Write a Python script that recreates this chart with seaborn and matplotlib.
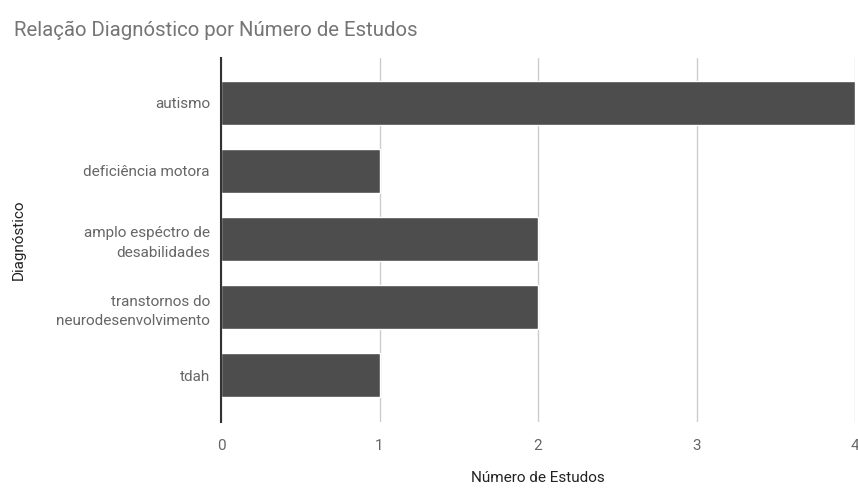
import matplotlib
matplotlib.use("Agg")
import matplotlib.pyplot as plt
import seaborn as sns
import pandas as pd

diagnosticos = [
    "autismo",
    "deficiência motora",
    "amplo espéctro de\ndesabilidades",
    "transtornos do\nneurodesenvolvimento",
    "tdah",
]
num_estudos = [4, 1, 2, 2, 1]
x_ticks = [0, 1, 2, 3, 4]

df = pd.DataFrame({"Diagnóstico": diagnosticos, "Número de Estudos": num_estudos})

sns.set_theme(style="white")
plt.rcParams["font.family"] = ["Roboto", "DejaVu Sans"]

fig = plt.figure(figsize=(8.58, 4.88), dpi=100)
ax = fig.add_axes([221 / 858, 1 - 422 / 488, (855 - 221) / 858, (422 - 58) / 488])

sns.barplot(data=df, x="Número de Estudos", y="Diagnóstico", orient="h",
            color="#4d4d4d", saturation=1, width=0.65, ax=ax, zorder=3)

ax.set_xlim(0, 4)
ax.set_ylim(4.69, -0.66)
ax.set_xticks(x_ticks)
ax.set_xticklabels([str(t) for t in x_ticks])
ax.grid(axis="x", color="#cccccc", linewidth=1, zorder=0)
ax.grid(axis="y", visible=False)

for side in ["top", "right", "bottom"]:
    ax.spines[side].set_visible(False)
ax.spines["left"].set_color("#333333")
ax.spines["left"].set_linewidth(1.5)
ax.spines["left"].set_zorder(4)

ax.tick_params(axis="both", length=0, labelsize=11, labelcolor="#666666")
ax.tick_params(axis="x", pad=12)
ax.tick_params(axis="y", pad=8)
for lbl in ax.get_yticklabels():
    lbl.set_horizontalalignment("right")
    lbl.set_multialignment("right")
    lbl.set_linespacing(1.5)

ax.set_xlabel("Número de Estudos", fontsize=11, color="#222222")
ax.xaxis.set_label_coords(0.5, (422 - 471) / 364)
ax.set_ylabel("Diagnóstico", fontsize=11, color="#222222")
ax.yaxis.set_label_coords((26 - 221) / 634, 0.5)

fig.text(14 / 858, 1 - 30 / 488, "Relação Diagnóstico por Número de Estudos",
         fontsize=14.7, color="#757575", ha="left", va="center")

fig.savefig("out.png", dpi=100, facecolor="white")
